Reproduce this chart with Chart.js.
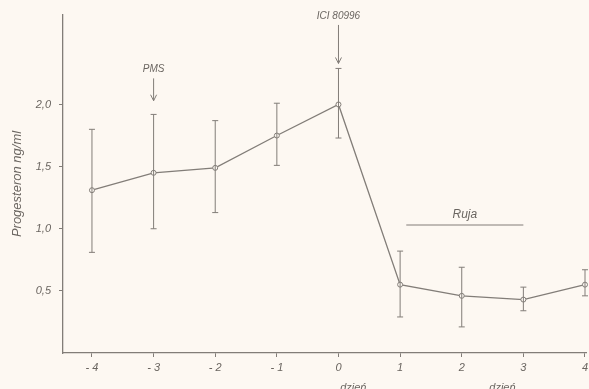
<!DOCTYPE html>
<html>
<head>
<meta charset="utf-8">
<script src="https://cdn.jsdelivr.net/npm/chart.js@4.4.1/dist/chart.umd.min.js"></script>
<style>
  html, body { margin: 0; padding: 0; background: #fdf8f2; }
  #wrap { width: 589px; height: 389px; }
</style>
</head>
<body>
<div id="wrap"><canvas id="progChart" width="589" height="389"></canvas></div>
<script>
// dane
const dni = [-4, -3, -2, -1, 0, 1, 2, 3, 4];
const srednie = [1.31, 1.45, 1.49, 1.75, 2.0, 0.55, 0.46, 0.43, 0.55];
const gorne = [1.80, 1.92, 1.87, 2.01, 2.29, 0.82, 0.69, 0.53, 0.67];
const dolne = [0.81, 1.00, 1.13, 1.51, 1.73, 0.29, 0.21, 0.34, 0.46];
const yTicki = [0.5, 1.0, 1.5, 2.0];
const xTicki = [-4, -3, -2, -1, 0, 1, 2, 3, 4];

// opisy
const strzalki = [
  { x: -3, tekst: 'PMS', yTekst: 2.28, od: 2.21, do: 2.03 },
  { x: 0, tekst: 'ICI 80996', yTekst: 2.71, od: 2.64, do: 2.33 }
];
const ruja = { tekst: 'Ruja', od: 1.1, do: 3.0, y: 1.03 };
const podpisyDni = [
  { x: 0.24, tekst: 'dzień' },
  { x: 2.66, tekst: 'dzień' }
];

const kolorLinii = '#827d78';
const kolorTekstu = '#6a6560';
const ostatniTick = xTicki[xTicki.length - 1];
const formatX = v => (v < 0 ? '- ' + Math.abs(v) : String(v));

const dodatki = {
  id: 'dodatki',
  afterDatasetsDraw(chart) {
    const ctx = chart.ctx;
    const sx = chart.scales.x, sy = chart.scales.y;
    ctx.save();
    ctx.strokeStyle = kolorLinii;
    ctx.lineWidth = 1;

    // słupki błędów
    dni.forEach((d, i) => {
      const px = sx.getPixelForValue(d);
      const yt = sy.getPixelForValue(gorne[i]);
      const yb = sy.getPixelForValue(dolne[i]);
      ctx.beginPath();
      ctx.moveTo(px, yt); ctx.lineTo(px, yb);
      ctx.moveTo(px - 3, yt); ctx.lineTo(px + 3, yt);
      ctx.moveTo(px - 3, yb); ctx.lineTo(px + 3, yb);
      ctx.stroke();
    });

    // strzałki
    ctx.fillStyle = kolorTekstu;
    ctx.font = 'italic 10px "Liberation Sans"';
    ctx.textAlign = 'center';
    ctx.textBaseline = 'middle';
    strzalki.forEach(s => {
      const px = sx.getPixelForValue(s.x);
      ctx.fillText(s.tekst, px, sy.getPixelForValue(s.yTekst));
      const y1 = sy.getPixelForValue(s.od), y2 = sy.getPixelForValue(s.do);
      ctx.beginPath();
      ctx.moveTo(px, y1); ctx.lineTo(px, y2);
      ctx.moveTo(px - 3, y2 - 6); ctx.lineTo(px, y2); ctx.lineTo(px + 3, y2 - 6);
      ctx.stroke();
    });

    // ruja
    const ry = sy.getPixelForValue(ruja.y);
    const rx1 = sx.getPixelForValue(ruja.od), rx2 = sx.getPixelForValue(ruja.do);
    ctx.beginPath();
    ctx.moveTo(rx1, ry); ctx.lineTo(rx2, ry);
    ctx.stroke();
    ctx.font = 'italic 12px "Liberation Sans"';
    ctx.textBaseline = 'bottom';
    ctx.fillText(ruja.tekst, (rx1 + rx2) / 2, ry - 4);

    // ostatnia etykieta osi x (ucięta przy krawędzi, jak w oryginale)
    ctx.font = 'italic 11px "Liberation Sans"';
    ctx.textBaseline = 'middle';
    ctx.fillText(formatX(ostatniTick), sx.getPixelForValue(ostatniTick), sx.top + 8 + 6.6);

    // podpisy pod osią
    ctx.textBaseline = 'top';
    podpisyDni.forEach(p => {
      ctx.fillText(p.tekst, sx.getPixelForValue(p.x), 382);
    });
    ctx.restore();
  }
};

new Chart(document.getElementById('progChart'), {
  type: 'line',
  data: {
    datasets: [{
      data: dni.map((d, i) => ({ x: d, y: srednie[i] })),
      clip: false,
      borderColor: kolorLinii,
      borderWidth: 1.3,
      tension: 0,
      pointRadius: 2.5,
      pointHoverRadius: 2.5,
      pointBorderWidth: 1,
      pointBackgroundColor: '#fdf8f2',
      pointBorderColor: kolorLinii
    }]
  },
  options: {
    responsive: false,
    animation: false,
    layout: { autoPadding: false, padding: { top: 15, right: 0, left: 0, bottom: 0 } },
    plugins: { legend: { display: false }, tooltip: { enabled: false } },
    scales: {
      x: {
        type: 'linear',
        min: -4.47,
        max: 4.03,
        afterFit: s => { s.height = 36; },
        afterBuildTicks: s => { s.ticks = xTicki.map(v => ({ value: v })); },
        border: { display: true, color: kolorLinii, width: 1.3 },
        grid: { drawOnChartArea: false, drawTicks: true, tickLength: 4, color: kolorLinii },
        ticks: {
          color: kolorTekstu,
          padding: 4,
          font: { family: 'Liberation Sans', style: 'italic', size: 11 },
          callback: v => (v === ostatniTick ? '' : formatX(v))
        }
      },
      y: {
        min: 0,
        max: 2.72,
        afterFit: s => { s.width = 63; },
        afterBuildTicks: s => { s.ticks = yTicki.map(v => ({ value: v })); },
        border: { display: true, color: kolorLinii, width: 1.3 },
        grid: { drawOnChartArea: false, drawTicks: true, tickLength: 4, color: kolorLinii },
        title: {
          display: true,
          text: 'Progesteron ng/ml',
          color: kolorTekstu,
          padding: { top: 10, bottom: 0 },
          font: { family: 'Liberation Sans', style: 'italic', size: 13 }
        },
        ticks: {
          color: kolorTekstu,
          padding: 8,
          font: { family: 'Liberation Sans', style: 'italic', size: 11 },
          callback: v => v.toFixed(1).replace('.', ',')
        }
      }
    }
  },
  plugins: [dodatki]
});
</script>
</body>
</html>
